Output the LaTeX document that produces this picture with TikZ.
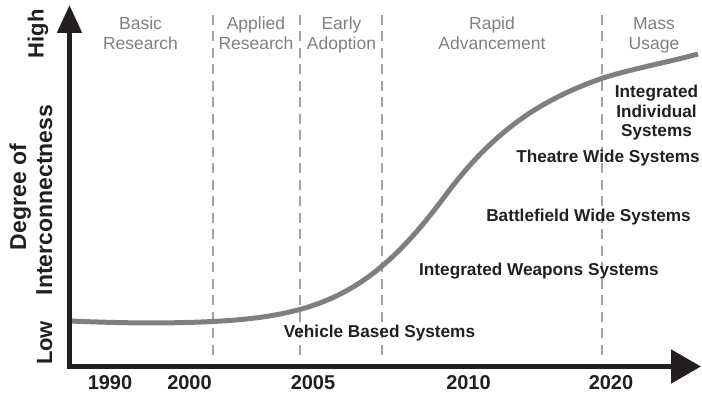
\documentclass[tikz,border=0pt]{standalone}
\usepackage{fontspec}
\setmainfont{Liberation Sans}
\usetikzlibrary{arrows.meta}
\definecolor{ink}{HTML}{231F20}
\definecolor{phasegray}{HTML}{808080}
\definecolor{dashgray}{HTML}{A3A3A3}
\definecolor{curvegray}{HTML}{7F7F7F}
\tikzset{
  axis/.style={draw=ink, line width=5pt, line join=miter},
  phaseline/.style={draw=dashgray, line width=2pt, dash pattern=on 10pt off 6.5pt},
  curveline/.style={draw=curvegray, line width=5pt},
  phaselabel/.style={text=phasegray, font=\fontsize{17.5}{20}\selectfont, inner sep=0pt, anchor=base},
  syslabel/.style={text=ink, font=\bfseries\fontsize{17.2}{20}\selectfont, inner sep=0pt, anchor=base},
  yearlabel/.style={text=ink, font=\bfseries\fontsize{20}{24}\selectfont, inner sep=0pt, anchor=base},
  ylabel/.style={text=ink, font=\bfseries\fontsize{23}{27}\selectfont, inner sep=0pt, anchor=base, rotate=90},
}
\begin{document}
\begin{tikzpicture}[x=1pt, y=-1pt]
\useasboundingbox (0,0) rectangle (702,395);
% axes
\coordinate (ytip) at (69.5,5);
\coordinate (origin) at (69.5,366.5);
\coordinate (xtip) at (701,366.5);
% phase dividers
\foreach \n/\x in {d1/213, d2/300, d3/381.5, d4/602} {
  \coordinate (\n top) at (\x,15);
  \coordinate (\n bot) at (\x,360);
  \draw[phaseline] (\n top) -- (\n bot);
}
% curve
\coordinate (c0) at (70,321);
\coordinate (c1) at (213,321.5);
\coordinate (c2) at (445,196);
\coordinate (c3) at (603,78);
\coordinate (c4) at (698,54);
\draw[curveline] (c0) .. controls (130,323.5) and (170,323.5) .. (c1)
  .. controls (323,316) and (375,290.5) .. (c2)
  .. controls (495,128.5) and (543,99) .. (c3)
  .. controls (635,68) and (665,63) .. (c4);
\draw[axis, {Triangle[length=28pt,width=24pt]}-{Triangle[length=30pt,width=33pt]}] (ytip) -- (origin) -- (xtip);
% phase labels
\node[phaselabel] (p1a) at (140.5,30) {Basic};
\node[phaselabel] (p1b) at (140.5,50) {Research};
\node[phaselabel] (p2a) at (256,30) {Applied};
\node[phaselabel] (p2b) at (256,50) {Research};
\node[phaselabel] (p3a) at (341.5,30) {Early};
\node[phaselabel] (p3b) at (341.5,50) {Adoption};
\node[phaselabel] (p4a) at (492,30) {Rapid};
\node[phaselabel] (p4b) at (492,50) {Advancement};
\node[phaselabel] (p5a) at (654,30) {Mass};
\node[phaselabel] (p5b) at (654,50) {Usage};
% system labels
\node[syslabel] (s5a) at (656.5,98) {Integrated};
\node[syslabel] (s5b) at (656.5,118) {Individual};
\node[syslabel] (s5c) at (656.5,137) {Systems};
\node[syslabel] (s4) at (608,163) {Theatre Wide Systems};
\node[syslabel] (s3) at (588.5,222) {Battlefield Wide Systems};
\node[syslabel] (s2) at (539,276) {Integrated Weapons Systems};
\node[syslabel] (s1) at (379.5,338) {Vehicle Based Systems};
% years
\node[yearlabel] (y1990) at (110,390) {1990};
\node[yearlabel] (y2000) at (189.5,390) {2000};
\node[yearlabel] (y2005) at (313,390) {2005};
\node[yearlabel] (y2010) at (468.5,390) {2010};
\node[yearlabel] (y2020) at (611,390) {2020};
% y-axis labels
\node[ylabel, font=\bfseries\fontsize{22}{26}\selectfont] (high) at (43.5,34) {High};
\node[ylabel] (deg) at (26,197) {Degree of};
\node[ylabel] (inter) at (52,200) {Interconnectness};
\node[ylabel, font=\bfseries\fontsize{22}{26}\selectfont] (low) at (52,343) {Low};
\end{tikzpicture}
\end{document}
